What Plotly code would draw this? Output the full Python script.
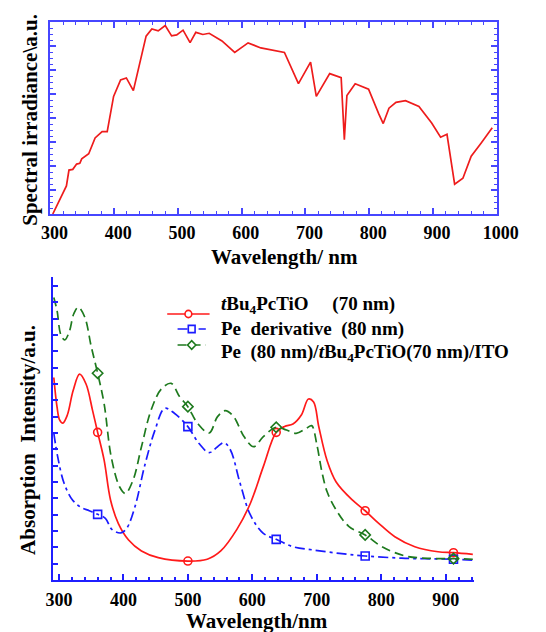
import plotly.graph_objects as go

# ---------------- data: top panel (solar spectrum) ----------------
sun_wl = [303.6, 312, 325, 329, 335, 341, 346, 349, 360, 370, 381, 389, 399, 410, 419, 430,
          450, 459, 469, 480, 490, 498, 508, 519, 528, 539, 549, 569, 589, 610, 630, 667,
          689, 708, 717, 738, 756, 761, 765, 778, 799, 815, 822, 831, 842, 857, 878, 898,
          912, 922, 934, 947, 960, 976, 993]
sun_val = [0.0, 0.48, 1.17, 1.83, 1.86, 2.08, 2.11, 2.30, 2.51, 3.17, 3.43, 3.43, 4.90, 5.59, 5.67, 5.14,
           7.41, 7.71, 7.63, 7.85, 7.42, 7.46, 7.66, 7.14, 7.57, 7.48, 7.53, 7.21, 6.73, 7.13, 6.92, 6.73,
           5.43, 6.33, 4.90, 5.85, 5.68, 3.10, 4.94, 5.43, 5.20, 4.17, 3.77, 4.41, 4.65, 4.72, 4.48, 3.79,
           3.20, 3.32, 1.24, 1.49, 2.41, 2.97, 3.59]

# ---------------- data: bottom panel (absorption) ----------------
red_x = [292, 297, 301, 306, 313, 322, 332, 342, 352, 360, 370, 380, 392, 408, 428, 454, 500,
         530, 551, 576, 597, 617, 637, 650, 663, 676, 687, 695, 703, 716, 730, 755, 775, 796,
         821, 852, 888, 912, 942]
red_y = [12.4, 10.6, 9.8, 9.6, 10.1, 11.6, 12.6, 12.0, 10.4, 9.04, 7.35, 4.9, 3.47, 2.45, 1.78, 1.37, 1.16,
         1.27, 1.78, 3.10, 4.70, 6.94, 9.04, 9.4, 9.55, 10.1, 11.08, 10.9, 9.4, 7.3, 6.0, 4.9, 4.24, 3.47,
         2.65, 2.04, 1.73, 1.67, 1.57]
red_mk = [9, 16, 22, 32, 37]

blue_x = [292, 298, 308, 321, 334, 347, 360, 372, 382, 396, 405, 418, 433, 449, 464, 479, 500,
          517, 533, 546, 556, 566, 581, 597, 617, 637, 663, 694, 735, 775, 837, 912, 942]
blue_y = [9.0, 7.55, 5.92, 4.9, 4.45, 4.24, 4.02, 3.78, 3.1, 2.88, 3.16, 4.5, 7.0, 9.18, 10.51, 10.21, 9.39,
          8.37, 7.8, 8.16, 8.41, 7.96, 5.92, 3.98, 2.86, 2.49, 2.04, 1.84, 1.63, 1.47, 1.33, 1.27, 1.22]
blue_mk = [6, 16, 25, 29, 31]

green_x = [292, 297, 303, 309, 316, 323, 330, 340, 350, 360, 370, 381, 394, 403, 415, 428, 443,
           459, 474, 487, 500, 515, 533, 546, 558, 571, 587, 602, 617, 637, 653, 668, 684, 692,
           700, 708, 716, 730, 750, 775, 801, 837, 872, 912, 942]
green_y = [17.3, 16.5, 15.0, 14.7, 15.2, 16.3, 16.7, 16.1, 14.3, 12.66, 10.8, 7.55, 5.71, 5.3, 6.12, 8.16, 10.41,
           11.7, 12.04, 11.23, 10.61, 9.59, 9.0, 10.0, 10.37, 10.0, 8.78, 8.16, 8.78, 9.35, 9.18, 8.98, 9.29, 9.45,
           8.3, 6.6, 5.4, 4.29, 3.27, 2.76, 2.04, 1.47, 1.33, 1.31, 1.27]
green_mk = [9, 20, 29, 39, 43]

legend_names = [
    "<i>t</i>Bu<sub>4</sub>PcTiO\u00a0\u00a0\u00a0\u00a0\u00a0(70 nm)",
    "Pe\u00a0 derivative\u00a0 (80 nm)",
    "Pe\u00a0 (80 nm)/<i>t</i>Bu<sub>4</sub>PcTiO(70 nm)/ITO",
]

FONT = "Liberation Serif, Times New Roman, serif"
W, H = 546, 632
TOP_AX = "#4646ff"
BOT_AX = "#1f1fff"

fig = go.Figure()

# top panel
fig.add_trace(go.Scatter(x=sun_wl, y=sun_val, mode="lines", line=dict(color="#ee1c1c", width=1.7),
                         showlegend=False, xaxis="x", yaxis="y"))

def pick(a, idx):
    return [a[i] for i in idx]

series = [
    (red_x, red_y, red_mk, "#ff1a1a", "solid", "circle-open", 8),
    (blue_x, blue_y, blue_mk, "#1a1aff", "10px,4px,3px,4px", "square-open", 8),
    (green_x, green_y, green_mk, "#1e7a1e", "9px,5px", "diamond-open", 8),
]
for xs, ys, mk, col, dash, sym, ms in series:
    fig.add_trace(go.Scatter(x=xs, y=ys, mode="lines", line=dict(color=col, width=1.7, dash=dash),
                             line_shape="spline", showlegend=False, xaxis="x2", yaxis="y2"))
    fig.add_trace(go.Scatter(x=pick(xs, mk), y=pick(ys, mk), mode="markers",
                             marker=dict(symbol=sym, size=ms, color=col, line=dict(width=1.6, color=col)),
                             showlegend=False, xaxis="x2", yaxis="y2"))

tickfont = dict(family=FONT, size=18, color="black", weight="bold")

fig.update_layout(
    width=W, height=H, margin=dict(l=0, r=0, t=0, b=0),
    paper_bgcolor="white", plot_bgcolor="white",
    showlegend=False,
    xaxis=dict(domain=[43 / W, 517 / W], anchor="y", range=[300, 1000], dtick=100, tick0=300,
               showline=True, linecolor=TOP_AX, linewidth=1.5, mirror="ticks",
               ticks="inside", ticklen=6, tickwidth=1.5, tickcolor=TOP_AX,
               minor=dict(dtick=20, ticks="inside", ticklen=3, tickcolor=TOP_AX, tickwidth=1),
               showgrid=False, zeroline=False, tickfont=tickfont, ticklabelstandoff=2,
               ticklabelshift=4),
    yaxis=dict(domain=[1 - 214 / H, 1 - 22 / H], anchor="x", range=[0, 8], dtick=1,
               showline=True, linecolor=TOP_AX, linewidth=1.5, mirror="ticks",
               ticks="inside", ticklen=6, tickwidth=1.5, tickcolor=TOP_AX,
               minor=dict(dtick=0.25, ticks="inside", ticklen=3, tickcolor=TOP_AX, tickwidth=1),
               showgrid=False, zeroline=False, showticklabels=False),
    xaxis2=dict(domain=[45.5 / W, 493 / W], anchor="y2", range=[290.5, 944], dtick=100, tick0=300,
                showline=True, linecolor=BOT_AX, linewidth=2,
                ticks="inside", ticklen=6, tickwidth=1.5, tickcolor=BOT_AX,
                minor=dict(dtick=20, ticks="inside", ticklen=3, tickcolor=BOT_AX, tickwidth=1.5),
                showgrid=False, zeroline=False, tickfont=tickfont, ticklabelstandoff=2),
    yaxis2=dict(domain=[1 - 580 / H, 1 - 277 / H], anchor="x2", range=[0, 18.55], dtick=1, tick0=0,
                showline=True, linecolor=BOT_AX, linewidth=2,
                ticks="inside", ticklen=5, tickwidth=1.5, tickcolor=BOT_AX,
                showgrid=False, zeroline=False, showticklabels=False),
)

# ---- manual legend (paper-pixel layout) ----
def px(x):
    return x / W

def py(y):
    return 1 - y / H

leg_font = dict(family=FONT, size=19, color="black", weight="bold")
leg_text_y = [305, 329, 353]
leg_sym_y = [314, 329, 345]
leg_line_x = [(167, 212), (178, 208), (178, 208)]
for (xs, ys, mk, col, dash, sym, ms), name, ty, sy, (x0, x1) in zip(series, legend_names, leg_text_y,
                                                                      leg_sym_y, leg_line_x):
    fig.add_annotation(text=name, x=px(222), y=py(ty), xref="paper", yref="paper", showarrow=False,
                       font=leg_font, xanchor="left", yanchor="middle")
    fig.add_shape(type="line", xref="paper", yref="paper", x0=px(x0), x1=px(x1), y0=py(sy), y1=py(sy),
                  line=dict(color=col, width=1.6, dash=dash))
    cx = (x0 + x1) / 2 + (0 if sym != "circle-open" else 0)
    r = 3.6
    if sym == "circle-open":
        fig.add_shape(type="circle", xref="paper", yref="paper", x0=px(cx - r), x1=px(cx + r),
                      y0=py(sy + r), y1=py(sy - r), line=dict(color=col, width=1.6), fillcolor="white")
    elif sym == "square-open":
        fig.add_shape(type="rect", xref="paper", yref="paper", x0=px(cx - r), x1=px(cx + r),
                      y0=py(sy + r), y1=py(sy - r), line=dict(color=col, width=1.6), fillcolor="white")
    else:
        path = "M {} {} L {} {} L {} {} L {} {} Z".format(px(cx - r - 0.8), py(sy), px(cx), py(sy - r - 0.8),
                                                          px(cx + r + 0.8), py(sy), px(cx), py(sy + r + 0.8))
        fig.add_shape(type="path", xref="paper", yref="paper", path=path,
                      line=dict(color=col, width=1.6), fillcolor="white")

titlefont = dict(family=FONT, size=21, color="black", weight="bold")
fig.add_annotation(text="Wavelength/ nm", x=292 / W, y=1 - 257 / H, xref="paper", yref="paper",
                   showarrow=False, font=titlefont, xanchor="center", yanchor="middle")
fig.add_annotation(text="Spectral irradiance\\a.u.", x=21 / W, y=1 - 120 / H, xref="paper", yref="paper",
                   showarrow=False, font=titlefont, textangle=-90, xanchor="center", yanchor="middle")
fig.add_annotation(text="Wavelength/nm", x=262 / W, y=1 - 621 / H, xref="paper", yref="paper",
                   showarrow=False, font=titlefont, xanchor="center", yanchor="middle")
fig.add_annotation(text="Absorption\u00a0 Intensity/a.u.", x=19 / W, y=1 - 440 / H, xref="paper", yref="paper",
                   showarrow=False, font=titlefont, textangle=-90, xanchor="center", yanchor="middle")

fig.write_html("out.html")
